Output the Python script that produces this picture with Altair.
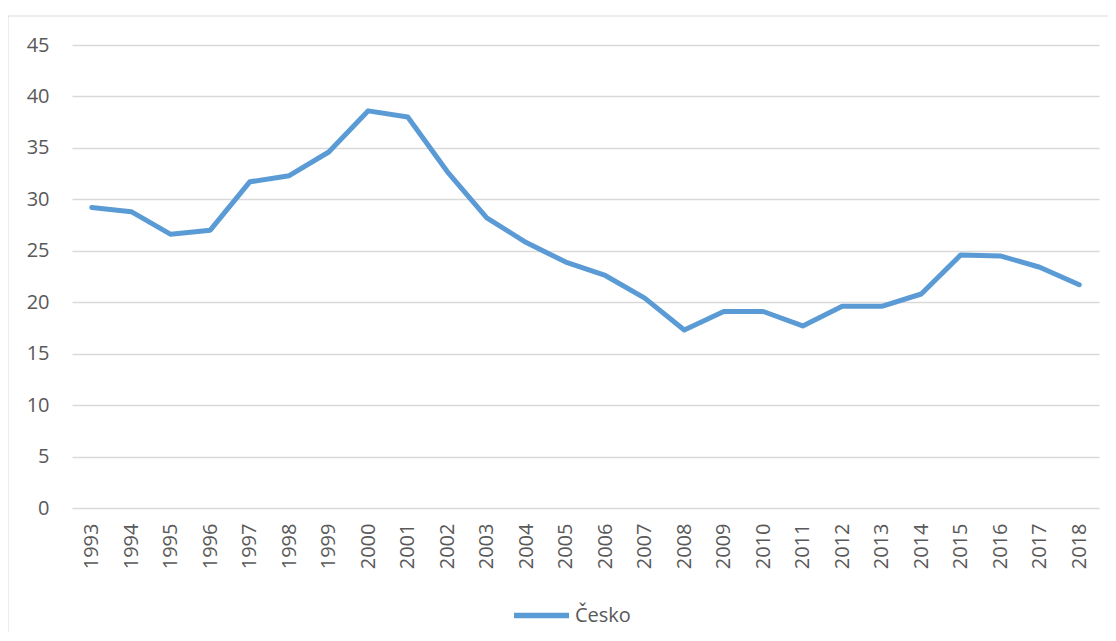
import altair as alt
import pandas as pd

years = [str(y) for y in range(1993, 2019)]
values = [29.2, 28.8, 26.6, 27.0, 31.7, 32.3, 34.6, 38.6, 38.0, 32.7,
          28.2, 25.8, 23.9, 22.6, 20.4, 17.3, 19.1, 19.1, 17.7, 19.6,
          19.6, 20.8, 24.6, 24.5, 23.4, 21.7]
series = ["Česko"] * len(years)
y_ticks = [0, 5, 10, 15, 20, 25, 30, 35, 40, 45]

df = pd.DataFrame({"rok": years, "hodnota": values, "serie": series})

FONT = "Open Sans"
LABEL_COLOR = "#595959"
GRID = "#d9d9d9"

border = alt.Chart(pd.DataFrame({"a": [0]})).mark_rect(
    fill="white", fillOpacity=0, stroke=GRID, strokeWidth=1
).encode(
    x=alt.value(-64), x2=alt.value(3000),
    y=alt.value(-29), y2=alt.value(3000)
)

line = alt.Chart(df).mark_line(
    strokeWidth=5, strokeCap="round", strokeJoin="round"
).encode(
    x=alt.X("rok:O", sort=years, title=None,
            axis=alt.Axis(labelAngle=-90, labelPadding=15, ticks=False, tickSize=0,
                          domain=False, grid=False,
                          labelFont=FONT, labelFontSize=20, labelColor=LABEL_COLOR)),
    y=alt.Y("hodnota:Q", title=None,
            scale=alt.Scale(domain=[0, 45], nice=False, zero=True),
            axis=alt.Axis(values=y_ticks, ticks=False, tickSize=0, domain=False,
                          labelPadding=23, grid=True, gridColor=GRID, gridWidth=1.3,
                          labelFont=FONT, labelFontSize=20, labelColor=LABEL_COLOR)),
    color=alt.Color("serie:N", scale=alt.Scale(range=["#5B9BD5"]),
                    legend=alt.Legend(title=None, orient="none", legendX=439, legendY=540,
                                      symbolType="stroke", symbolSize=3025,
                                      symbolStrokeWidth=5.5, labelOffset=3, padding=0,
                                      labelFontSize=20, labelColor=LABEL_COLOR,
                                      labelFont=FONT))
)

chart = alt.layer(border, line).properties(
    width=1027, height=463,
    background="white",
    autosize=alt.AutoSizeParams(type="none"),
    padding={"left": 64, "top": 37, "right": 9, "bottom": 124},
).configure_view(stroke=None)

chart.save("out.html", embed_options={"renderer": "svg", "actions": False})
